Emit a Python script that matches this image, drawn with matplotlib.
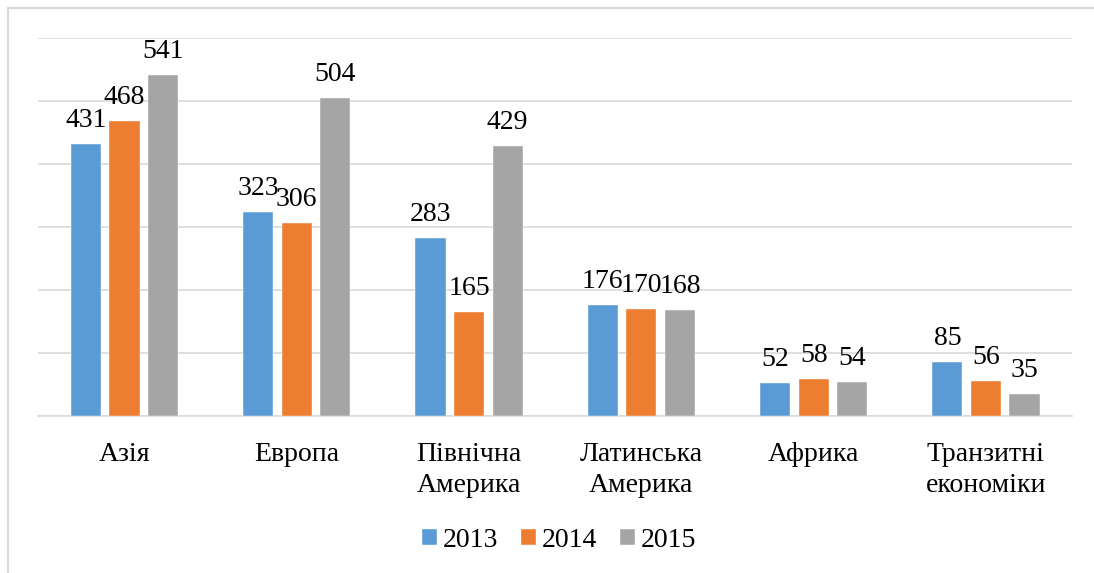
import numpy as np
import matplotlib.pyplot as plt
from matplotlib.patches import Rectangle

regions = ["Азія", "Европа", "Північна\nАмерика", "Латинська\nАмерика", "Африка", "Транзитні\nекономіки"]
years = ["2013", "2014", "2015"]
v2013 = [431, 323, 283, 176, 52, 85]
v2014 = [468, 306, 165, 170, 58, 56]
v2015 = [541, 504, 429, 168, 54, 35]
colors = ["#5B9BD5", "#ED7D31", "#A5A5A5"]

plt.rcParams["font.family"] = ["Liberation Serif", "DejaVu Serif"]

fig = plt.figure(figsize=(10.94, 5.73), dpi=100)
ax = fig.add_axes([0.035, 0.274, 0.945, 0.66])

x = np.arange(len(regions))
step = 0.224
width = 0.175
for i, (vals, yr) in enumerate(zip([v2013, v2014, v2015], years)):
    pos = x + (i - 1) * step
    ax.bar(pos, vals, width, color=colors[i], label=yr, zorder=3,
           edgecolor="white", linewidth=0.3)
    for xp, v in zip(pos, vals):
        ax.annotate(str(v), (xp, v), xytext=(0, 17), textcoords="offset pixels",
                    ha="center", va="baseline", fontsize=20, zorder=4)

ax.set_xlim(-0.5, len(regions) - 0.5)
ax.set_ylim(0, 600)
ax.set_yticks(np.arange(0, 601, 100))
ax.yaxis.grid(True, color="#D9D9D9", linewidth=1.2, zorder=0)
ax.tick_params(axis="y", length=0, labelleft=False)
ax.tick_params(axis="x", length=0, pad=19, labelsize=20)
ax.set_xticks(x)
ax.set_xticklabels(regions, linespacing=1.3)
for s in ["top", "right", "left"]:
    ax.spines[s].set_visible(False)
ax.spines["bottom"].set_color("#D9D9D9")
ax.spines["bottom"].set_linewidth(1.2)

ax.legend(loc="center", bbox_to_anchor=(0.511, 0.057), bbox_transform=fig.transFigure,
          ncol=3, frameon=False, fontsize=20, handlelength=0.55, handleheight=0.55,
          handletextpad=0.22, columnspacing=0.8)

fig.patches.append(Rectangle((8 / 1094, -0.05), 1.1, 1.05 - 8 / 573 + 0.0,
                             transform=fig.transFigure, fill=False,
                             edgecolor="#D9D9D9", linewidth=1.5))

fig.savefig("out.png", dpi=100, facecolor="white")
